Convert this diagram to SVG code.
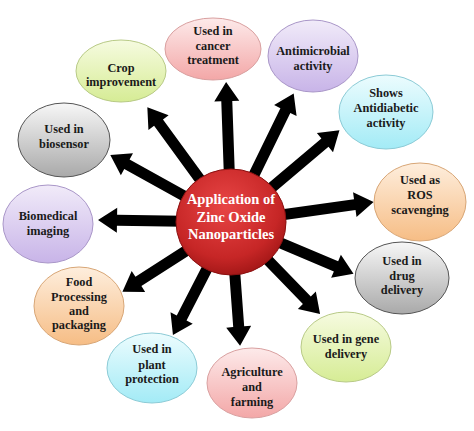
<svg xmlns="http://www.w3.org/2000/svg" width="474" height="431" viewBox="0 0 474 431">
<defs>
<linearGradient id="gPink" x1="0" y1="0" x2="0" y2="1"><stop offset="0" stop-color="#fdeaea"/><stop offset="1" stop-color="#f3a7a7"/></linearGradient>
<linearGradient id="gPurple" x1="0" y1="0" x2="0" y2="1"><stop offset="0" stop-color="#f1ebf9"/><stop offset="1" stop-color="#c8b4e8"/></linearGradient>
<linearGradient id="gCyan" x1="0" y1="0" x2="0" y2="1"><stop offset="0" stop-color="#ecfcfe"/><stop offset="1" stop-color="#a3ebf6"/></linearGradient>
<linearGradient id="gOrange" x1="0" y1="0" x2="0" y2="1"><stop offset="0" stop-color="#feeedd"/><stop offset="1" stop-color="#f6bd85"/></linearGradient>
<linearGradient id="gGray" x1="0" y1="0" x2="0" y2="1"><stop offset="0" stop-color="#f7f7f7"/><stop offset="1" stop-color="#a9a9a9"/></linearGradient>
<linearGradient id="gLime" x1="0" y1="0" x2="0" y2="1"><stop offset="0" stop-color="#f6fbe0"/><stop offset="1" stop-color="#d6ec95"/></linearGradient>
<radialGradient id="gRed" cx="0.45" cy="0.35" r="0.7"><stop offset="0" stop-color="#e84545"/><stop offset="0.7" stop-color="#c62626"/><stop offset="1" stop-color="#9c1414"/></radialGradient>
<style>
.n text{font-family:'Liberation Serif','DejaVu Serif',serif;font-weight:bold;font-size:12.3px;fill:#1a1a1a;text-anchor:middle}
.pink{fill:url(#gPink);stroke:#d9a0a0;stroke-width:1}
.purple{fill:url(#gPurple);stroke:#a996c8;stroke-width:1}
.cyan{fill:url(#gCyan);stroke:#8ccbd6;stroke-width:1}
.orange{fill:url(#gOrange);stroke:#d8a676;stroke-width:1}
.gray{fill:url(#gGray);stroke:#555;stroke-width:1}
.lime{fill:url(#gLime);stroke:#b8ca86;stroke-width:1}
.arr{fill:#000}
.c text{font-family:'Liberation Serif','DejaVu Serif',serif;font-weight:bold;font-size:14.5px;fill:#fff;text-anchor:middle}
</style>
</defs>
<rect width="474" height="431" fill="#fff"/>

<g id="connectors">
<polygon class="arr" transform="translate(231,222) rotate(-92)" points="0,-5.5 121,-5.5 121,-12.5 140,0 121,12.5 121,5.5 0,5.5"/>
<polygon class="arr" transform="translate(231,222) rotate(-64)" points="0,-5.5 124,-5.5 124,-12.5 143,0 124,12.5 124,5.5 0,5.5"/>
<polygon class="arr" transform="translate(231,222) rotate(-40.2)" points="0,-5.5 123,-5.5 123,-12.5 142,0 123,12.5 123,5.5 0,5.5"/>
<polygon class="arr" transform="translate(231,222) rotate(-8)" points="0,-5.5 125,-5.5 125,-12.5 144,0 125,12.5 125,5.5 0,5.5"/>
<polygon class="arr" transform="translate(231,222) rotate(22.9)" points="0,-5.5 114,-5.5 114,-12.5 133,0 114,12.5 114,5.5 0,5.5"/>
<polygon class="arr" transform="translate(231,222) rotate(45.9)" points="0,-5.5 109,-5.5 109,-12.5 128,0 109,12.5 109,5.5 0,5.5"/>
<polygon class="arr" transform="translate(231,222) rotate(85.8)" points="0,-5.5 105,-5.5 105,-12.5 124,0 105,12.5 105,5.5 0,5.5"/>
<polygon class="arr" transform="translate(231,222) rotate(117.2)" points="0,-5.5 108,-5.5 108,-12.5 127,0 108,12.5 108,5.5 0,5.5"/>
<polygon class="arr" transform="translate(231,222) rotate(147.3)" points="0,-5.5 110,-5.5 110,-12.5 129,0 110,12.5 110,5.5 0,5.5"/>
<polygon class="arr" transform="translate(231,222) rotate(180.9)" points="0,-5.5 114,-5.5 114,-12.5 133,0 114,12.5 114,5.5 0,5.5"/>
<polygon class="arr" transform="translate(231,222) rotate(209)" points="0,-5.5 119,-5.5 119,-12.5 138,0 119,12.5 119,5.5 0,5.5"/>
<polygon class="arr" transform="translate(231,222) rotate(233.9)" points="0,-5.5 123,-5.5 123,-12.5 142,0 123,12.5 123,5.5 0,5.5"/>
</g>

<g id="center" class="c">
<ellipse cx="231" cy="222" rx="55" ry="53" fill="url(#gRed)" stroke="#8a1010" stroke-width="1"/>
<text x="231" y="204">Application of</text>
<text x="231" y="221.5">Zinc Oxide</text>
<text x="231" y="239">Nanoparticles</text>
</g>

<g id="n-cancer" class="n">
<ellipse class="pink" cx="213" cy="49" rx="48" ry="31"/>
<text x="213" y="35">Used in</text><text x="213" y="50">cancer</text><text x="213" y="64">treatment</text>
</g>
<g id="n-antimicrobial" class="n">
<ellipse class="purple" cx="313" cy="56" rx="45" ry="36"/>
<text x="313" y="55">Antimicrobial</text><text x="313" y="70">activity</text>
</g>
<g id="n-antidiabetic" class="n">
<ellipse class="cyan" cx="386" cy="112" rx="47" ry="37"/>
<text x="386" y="97">Shows</text><text x="386" y="112">Antidiabetic</text><text x="386" y="127">activity</text>
</g>
<g id="n-ros" class="n">
<ellipse class="orange" cx="420" cy="202" rx="46" ry="39"/>
<text x="420" y="184">Used as</text><text x="420" y="199">ROS</text><text x="420" y="214">scavenging</text>
</g>
<g id="n-drug" class="n">
<ellipse class="gray" cx="402" cy="278" rx="47" ry="36"/>
<text x="402" y="265">Used in</text><text x="402" y="280">drug</text><text x="402" y="294">delivery</text>
</g>
<g id="n-gene" class="n">
<ellipse class="lime" cx="346" cy="347" rx="45" ry="35"/>
<text x="346" y="343">Used in gene</text><text x="346" y="358">delivery</text>
</g>
<g id="n-agri" class="n">
<ellipse class="pink" cx="252" cy="383" rx="45" ry="35"/>
<text x="252" y="376">Agriculture</text><text x="252" y="391">and</text><text x="252" y="406">farming</text>
</g>
<g id="n-plant" class="n">
<ellipse class="cyan" cx="152" cy="368" rx="45" ry="35"/>
<text x="152" y="353">Used in</text><text x="152" y="369">plant</text><text x="152" y="383">protection</text>
</g>
<g id="n-food" class="n">
<ellipse class="orange" cx="79" cy="306" rx="45" ry="39"/>
<text x="79" y="286">Food</text><text x="79" y="301">Processing</text><text x="79" y="315">and</text><text x="79" y="329">packaging</text>
</g>
<g id="n-biomedical" class="n">
<ellipse class="purple" cx="48" cy="224" rx="45" ry="39"/>
<text x="48" y="220">Biomedical</text><text x="48" y="235">imaging</text>
</g>
<g id="n-biosensor" class="n">
<ellipse class="gray" cx="64" cy="140" rx="46" ry="37"/>
<text x="64" y="133">Used in</text><text x="64" y="148">biosensor</text>
</g>
<g id="n-crop" class="n">
<ellipse class="lime" cx="121" cy="71" rx="45" ry="31"/>
<text x="121" y="72">Crop</text><text x="121" y="86">improvement</text>
</g>
</svg>
